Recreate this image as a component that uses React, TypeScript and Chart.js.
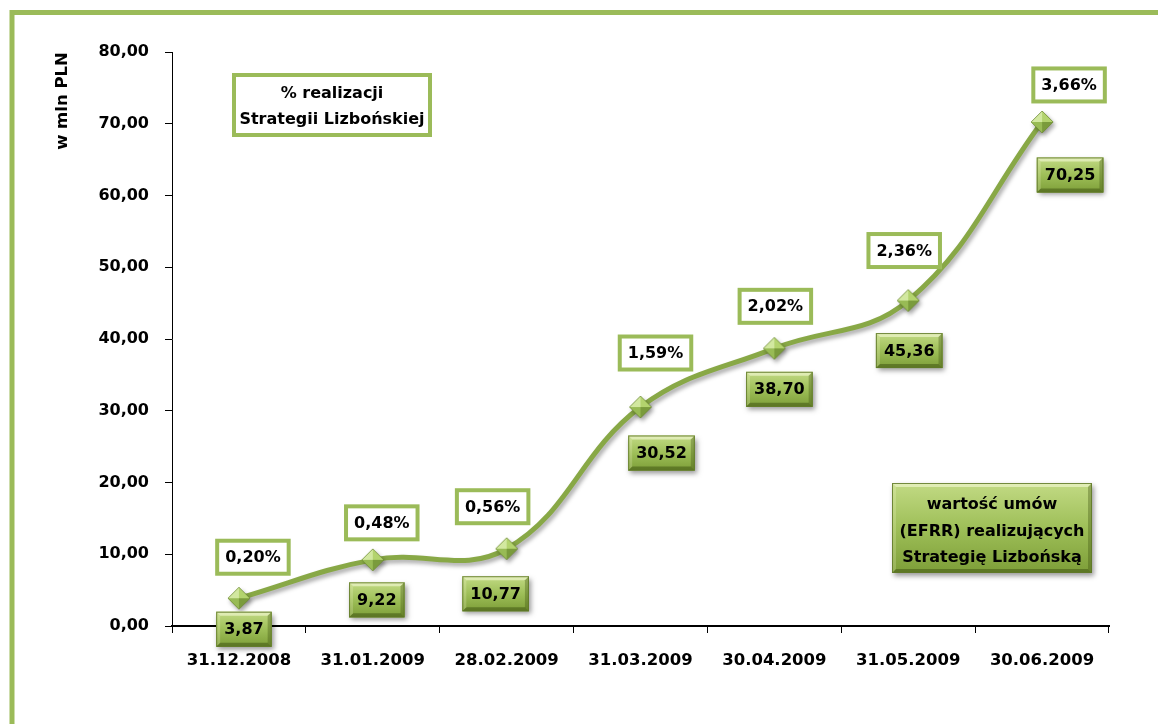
import React, { useEffect, useRef } from 'react';
import { Chart, registerables } from 'chart.js';

Chart.register(...registerables);

// ---- data ----
const categories = ['31.12.2008', '31.01.2009', '28.02.2009', '31.03.2009', '30.04.2009', '31.05.2009', '30.06.2009'];
const contractValues = [3.87, 9.22, 10.77, 30.52, 38.7, 45.36, 70.25];
const realizationShares = [0.2, 0.48, 0.56, 1.59, 2.02, 2.36, 3.66];
const yTickValues = [0, 10, 20, 30, 40, 50, 60, 70, 80];
const yAxisTitle = 'w mln PLN';
const legendShareLines = ['% realizacji', 'Strategii Lizbońskiej'];
const legendValueLines = ['wartość umów', '(EFRR) realizujących', 'Strategię Lizbońską'];

// ---- label placement (style, px offsets from each point) ----
const valueLabelOffsets: [number, number][] = [[5, 31], [4, 40], [-11, 45], [21, 46], [5, 41], [1, 50], [28, 53]];
const shareLabelOffsets: [number, number][] = [[14, -41], [9, -37], [-14, -42], [15, -54], [1, -42], [-4, -50], [27, -37]];

const GREEN = '#9bbb59';
const LINE = '#88a846';
const FONT = 'DejaVu Sans';

const fmt = (n: number) => n.toFixed(2).replace('.', ',');

function poly(ctx: CanvasRenderingContext2D, pts: number[][], fill: string) {
  ctx.beginPath();
  ctx.moveTo(pts[0][0], pts[0][1]);
  for (let i = 1; i < pts.length; i++) ctx.lineTo(pts[i][0], pts[i][1]);
  ctx.closePath();
  ctx.fillStyle = fill;
  ctx.fill();
}

function bevelBox(ctx: CanvasRenderingContext2D, x: number, y: number, w: number, h: number) {
  ctx.save();
  ctx.shadowColor = 'rgba(0,0,0,0.4)';
  ctx.shadowBlur = 5;
  ctx.shadowOffsetX = 2;
  ctx.shadowOffsetY = 3;
  ctx.fillStyle = '#8fb04e';
  ctx.fillRect(x, y, w, h);
  ctx.restore();
  const g = ctx.createLinearGradient(0, y, 0, y + h);
  g.addColorStop(0, '#c2da84');
  g.addColorStop(0.5, '#9ebf58');
  g.addColorStop(1, '#7d9e38');
  ctx.fillStyle = g;
  ctx.fillRect(x, y, w, h);
  const b = 4;
  poly(ctx, [[x, y], [x + w, y], [x + w - b, y + b], [x + b, y + b]], 'rgba(245,250,215,0.6)');
  poly(ctx, [[x, y + h], [x + w, y + h], [x + w - b, y + h - b], [x + b, y + h - b]], 'rgba(60,80,15,0.5)');
  poly(ctx, [[x, y], [x + b, y + b], [x + b, y + h - b], [x, y + h]], 'rgba(255,255,220,0.2)');
  poly(ctx, [[x + w, y], [x + w - b, y + b], [x + w - b, y + h - b], [x + w, y + h]], 'rgba(60,80,15,0.35)');
  ctx.strokeStyle = 'rgba(95,120,40,0.85)';
  ctx.lineWidth = 1;
  ctx.strokeRect(x + 0.5, y + 0.5, w - 1, h - 1);
}

function frameBox(ctx: CanvasRenderingContext2D, x: number, y: number, w: number, h: number) {
  ctx.fillStyle = '#ffffff';
  ctx.fillRect(x, y, w, h);
  ctx.strokeStyle = GREEN;
  ctx.lineWidth = 4;
  ctx.strokeRect(x + 2, y + 2, w - 4, h - 4);
}

function makeMarker(): HTMLCanvasElement {
  const c = document.createElement('canvas');
  c.width = 26;
  c.height = 26;
  const g = c.getContext('2d') as CanvasRenderingContext2D;
  const cx = 13, cy = 13, r = 11;
  poly(g, [[cx, cy - r], [cx - r, cy], [cx, cy]], '#d2e8a0');
  poly(g, [[cx, cy - r], [cx + r, cy], [cx, cy]], '#b3d36e');
  poly(g, [[cx - r, cy], [cx, cy + r], [cx, cy]], '#98bb55');
  poly(g, [[cx + r, cy], [cx, cy + r], [cx, cy]], '#7a9b3c');
  g.strokeStyle = 'rgba(110,140,50,0.8)';
  g.lineWidth = 1;
  g.beginPath();
  g.moveTo(cx, cy - r); g.lineTo(cx + r, cy); g.lineTo(cx, cy + r); g.lineTo(cx - r, cy); g.closePath();
  g.stroke();
  return c;
}

const decorPlugin = {
  id: 'decor',
  beforeDraw(chart: any) {
    const ctx: CanvasRenderingContext2D = chart.ctx;
    ctx.save();
    ctx.fillStyle = '#ffffff';
    ctx.fillRect(0, 0, chart.width, chart.height);
    // outer frame
    ctx.strokeStyle = GREEN;
    ctx.lineWidth = 5;
    ctx.strokeRect(12, 12.5, 1200, 800);
    // legend: share box
    frameBox(ctx, 232, 73, 200, 64);
    ctx.fillStyle = '#000';
    ctx.textAlign = 'center';
    ctx.textBaseline = 'middle';
    ctx.font = `bold 16px "${FONT}"`;
    ctx.fillText(legendShareLines[0], 332, 94);
    ctx.fillText(legendShareLines[1], 332, 120);
    // legend: value box
    bevelBox(ctx, 892, 483, 200, 90);
    ctx.fillStyle = '#000';
    ctx.font = `bold 16px "${FONT}"`;
    legendValueLines.forEach((t, i) => ctx.fillText(t, 992, 505 + i * 26.5));
    ctx.restore();
  },
  beforeDatasetDraw(chart: any) {
    const ctx: CanvasRenderingContext2D = chart.ctx;
    ctx.save();
    ctx.shadowColor = 'rgba(0,0,0,0.35)';
    ctx.shadowBlur = 4;
    ctx.shadowOffsetX = 2;
    ctx.shadowOffsetY = 3;
  },
  afterDatasetDraw(chart: any) {
    chart.ctx.restore();
  },
  afterDatasetsDraw(chart: any) {
    const ctx: CanvasRenderingContext2D = chart.ctx;
    const meta = chart.getDatasetMeta(0);
    ctx.save();
    ctx.textAlign = 'center';
    ctx.textBaseline = 'middle';
    ctx.font = `bold 16px "${FONT}"`;
    meta.data.forEach((pt: any, i: number) => {
      // share (percentage) label
      const st = fmt(realizationShares[i]) + '%';
      const sw = ctx.measureText(st).width + 20;
      const sh = 37;
      const scx = pt.x + shareLabelOffsets[i][0];
      const scy = pt.y + shareLabelOffsets[i][1];
      frameBox(ctx, scx - sw / 2, scy - sh / 2, sw, sh);
      ctx.fillStyle = '#000';
      ctx.fillText(st, scx, scy + 1);
      // value label
      const vt = fmt(contractValues[i]);
      const vw = ctx.measureText(vt).width + 16;
      const vh = 35;
      const vcx = pt.x + valueLabelOffsets[i][0];
      const vcy = pt.y + valueLabelOffsets[i][1];
      bevelBox(ctx, vcx - vw / 2, vcy - vh / 2, vw, vh);
      ctx.fillStyle = '#000';
      ctx.fillText(vt, vcx, vcy + 1);
    });
    // y axis title
    ctx.translate(63, 101);
    ctx.rotate(-Math.PI / 2);
    ctx.font = `bold 16.5px "${FONT}"`;
    ctx.fillText(yAxisTitle, 0, 0);
    ctx.restore();
  },
};

export default function App() {
  const ref = useRef<HTMLCanvasElement>(null);
  useEffect(() => {
    if (!ref.current) return;
    const chart = new Chart(ref.current, {
      type: 'line',
      data: {
        labels: categories,
        datasets: [
          {
            data: contractValues,
            borderColor: LINE,
            borderWidth: 5,
            tension: 0.4,
            fill: false,
            pointStyle: makeMarker() as any,
            pointRadius: 11,
          },
        ],
      },
      options: {
        responsive: false,
        animation: false,
        layout: { padding: { top: 52, right: 49, left: 0, bottom: 0 } },
        plugins: { legend: { display: false }, tooltip: { enabled: false } },
        scales: {
          x: {
            offset: true,
            grid: { display: true, offset: true, drawOnChartArea: false, tickLength: 7, color: '#000', lineWidth: 1 },
            border: { display: true, color: '#000', width: 2 },
            ticks: { color: '#000', font: { family: FONT, weight: 'bold', size: 16.5 }, padding: 18, maxRotation: 0, autoSkip: false },
            afterFit: (s: any) => { s.height = 98; },
          },
          y: {
            min: 0,
            max: 80,
            afterBuildTicks: (s: any) => { s.ticks = yTickValues.map((v) => ({ value: v })); },
            ticks: { color: '#000', font: { family: FONT, weight: 'bold', size: 16 }, padding: 16, callback: (v: any) => fmt(Number(v)) },
            grid: { display: true, drawOnChartArea: false, tickLength: 7, color: '#000', lineWidth: 1 },
            border: { display: true, color: '#000', width: 1 },
            afterFit: (s: any) => { s.width = 172; },
          },
        },
      } as any,
      plugins: [decorPlugin as any],
    });
    return () => chart.destroy();
  }, []);
  return (
    <div style={{ position: 'absolute', left: 0, top: 0, width: 1158, height: 724 }}>
      <canvas ref={ref} width={1158} height={724} style={{ display: 'block' }} />
    </div>
  );
}
